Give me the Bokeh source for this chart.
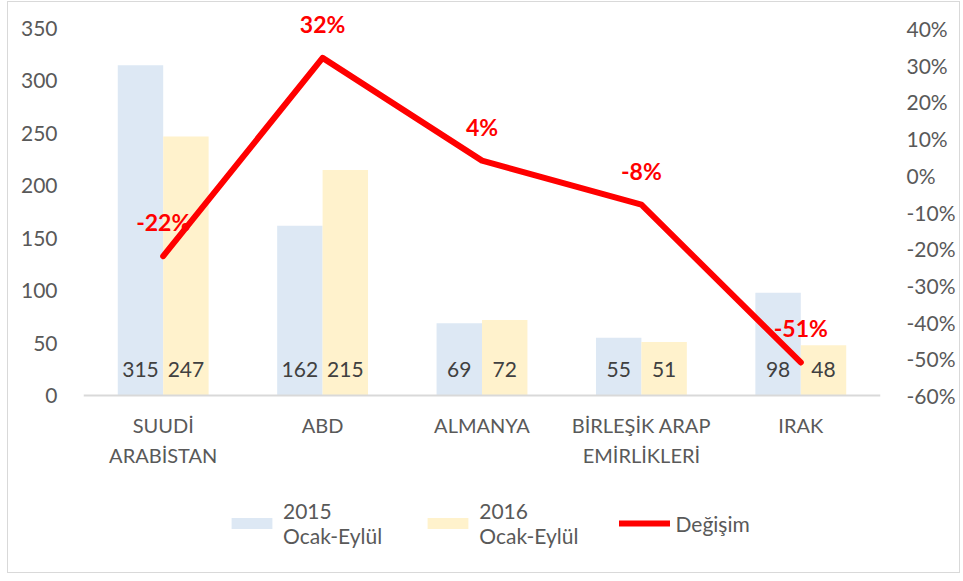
from bokeh.plotting import figure
from bokeh.models import (Range1d, LinearAxis, FactorRange, ColumnDataSource, FixedTicker,
                          NumeralTickFormatter, Legend, LegendItem, Span)
from bokeh.transform import dodge
from bokeh.core.properties import value
from bokeh.embed import file_html
from bokeh.resources import INLINE

categories = ["SUUDİ\nARABİSTAN", "ABD", "ALMANYA", "BİRLEŞİK ARAP\nEMİRLİKLERİ", "IRAK"]
v2015 = [315, 162, 69, 55, 98]
v2016 = [247, 215, 72, 51, 48]
change = [-0.22, 0.32, 0.04, -0.08, -0.51]
change_labels = ["-22%", "32%", "4%", "-8%", "-51%"]
left_ticks = [0, 50, 100, 150, 200, 250, 300, 350]
right_ticks = [-0.6, -0.5, -0.4, -0.3, -0.2, -0.1, 0.0, 0.1, 0.2, 0.3, 0.4]
series_names = ["2015\nOcak-Eylül", "2016\nOcak-Eylül", "Değişim"]

FONT = "Lato"
C15 = "#dde8f4"
C16 = "#fff2cc"
RED = "#ff0000"
GREY = "#595959"

src = ColumnDataSource(dict(
    cat=categories, v2015=v2015, v2016=v2016,
    l2015=[str(v) for v in v2015], l2016=[str(v) for v in v2016],
    change=change, clab=change_labels,
))

# frame: top at 12px, bottom at 571px (page coords); 350 units = 367px
PX = 367.0 / 350.0
Y_END = 16 / PX + 350
Y_START = -(571 - 395) / PX
p = figure(width=953, height=572, x_range=FactorRange(*categories),
           y_range=Range1d(Y_START, Y_END), output_backend="svg", toolbar_location=None,
           x_axis_location=None,
           min_border_left=75, min_border_right=81, min_border_top=10, min_border_bottom=3)
p.styles = {"border": "1px solid #d9d9d9", "margin-left": "7px", "margin-top": "1px"}
p.extra_y_ranges = {"pct": Range1d(-0.6 + Y_START / 350.0, -0.6 + Y_END / 350.0)}
p.x_range.range_padding = 0
p.xgrid.visible = False
p.ygrid.visible = False
p.outline_line_color = None
p.background_fill_color = "white"
p.border_fill_color = "white"

r15 = p.vbar(x=dodge("cat", -0.1425, range=p.x_range), top="v2015", width=0.285,
             source=src, fill_color=C15, line_color=None)
r16 = p.vbar(x=dodge("cat", 0.1425, range=p.x_range), top="v2016", width=0.285,
             source=src, fill_color=C16, line_color=None)

# category axis line
p.add_layout(Span(location=0, dimension="width", line_color="#d9d9d9", line_width=2))

# category labels
p.text(x="cat", y=0, text="cat", source=src, y_offset=17,
       text_align="center", text_baseline="top", text_line_height=1.25,
       text_font=value(FONT), text_font_size="20px", text_color=GREY)

p.text(x=dodge("cat", -0.1425, range=p.x_range), y=0, text="l2015", source=src,
       y_offset=-26, text_align="center", text_baseline="middle",
       text_font=value(FONT), text_font_size="21px", text_color="#404040")
p.text(x=dodge("cat", 0.1425, range=p.x_range), y=0, text="l2016", source=src,
       y_offset=-26, text_align="center", text_baseline="middle",
       text_font=value(FONT), text_font_size="21px", text_color="#404040")

rl = p.line(x="cat", y="change", source=src, y_range_name="pct",
            line_color=RED, line_width=6, line_join="round", line_cap="round")
p.text(x="cat", y="change", text="clab", source=src, y_range_name="pct",
       y_offset=-34, text_align="center", text_baseline="middle",
       text_font=value(FONT), text_font_size="23px", text_font_style="bold", text_color=RED)

# axes
ya = p.yaxis[0]
ya.ticker = FixedTicker(ticks=left_ticks)
ya.axis_line_color = None
ya.major_tick_line_color = None
ya.minor_tick_line_color = None
ya.major_label_standoff = 20
ya.major_label_text_font = FONT
ya.major_label_text_font_size = "21px"
ya.major_label_text_color = GREY

ra = LinearAxis(y_range_name="pct", ticker=FixedTicker(ticks=right_ticks),
                formatter=NumeralTickFormatter(format="0%"))
ra.axis_line_color = None
ra.major_tick_line_color = None
ra.minor_tick_line_color = None
ra.major_label_standoff = 20
ra.major_label_text_font = FONT
ra.major_label_text_font_size = "21px"
ra.major_label_text_color = GREY
p.add_layout(ra, "right")

legend = Legend(items=[LegendItem(label=series_names[0], renderers=[r15]),
                       LegendItem(label=series_names[1], renderers=[r16]),
                       LegendItem(label=series_names[2], renderers=[rl])],
                orientation="horizontal", location=(143, 23),
                glyph_width=51, glyph_height=14, label_standoff=6, spacing=40,
                padding=0, margin=0, border_line_color=None, background_fill_alpha=0,
                label_text_font=FONT, label_text_font_size="21px",
                label_text_color=GREY)
p.add_layout(legend, "center")

open("out.html", "w").write(file_html(p, INLINE))
